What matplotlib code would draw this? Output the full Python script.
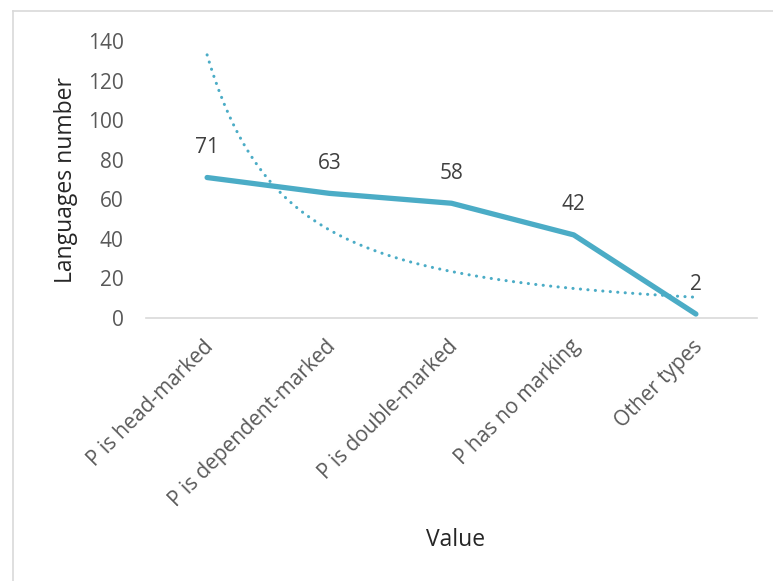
import numpy as np
import matplotlib
matplotlib.use("Agg")
import matplotlib.pyplot as plt
from matplotlib.lines import Line2D
from matplotlib.transforms import ScaledTranslation

categories = ["P is head-marked", "P is dependent-marked", "P is double-marked",
              "P has no marking", "Other types"]
languages = [71, 63, 58, 42, 2]
y_ticks = [0, 20, 40, 60, 80, 100, 120, 140]

LINE = "#4BACC6"
TEXT = "#595959"
AXIS = "#D9D9D9"

plt.rcParams["font.family"] = ["Open Sans", "DejaVu Sans"]

fig = plt.figure(figsize=(7.73, 5.81), dpi=100)
ax = fig.add_axes([146 / 773, 1 - 318 / 581, (757 - 146) / 773, (318 - 41) / 581])

x = np.arange(1, len(categories) + 1)
ax.plot(x, languages, color=LINE, lw=3.8, solid_capstyle="round",
        solid_joinstyle="round", zorder=3)

# power trendline y = a * x^b fitted in log space
b, ln_a = np.polyfit(np.log(x), np.log(languages), 1)
xt = np.linspace(1, len(categories), 200)
ax.plot(xt, np.exp(ln_a) * xt ** b, color=LINE, lw=2.2,
        linestyle=(0, (0.05, 2.4)), dash_capstyle="round", zorder=2)

for xi, v in zip(x, languages):
    ax.annotate(str(v), (xi, v), xytext=(0, 14), textcoords="offset points",
                ha="center", va="bottom", color="#404040", fontsize=15)

ax.set_xlim(0.5, len(categories) + 0.5)
ax.set_ylim(0, 140)
ax.set_yticks(y_ticks)
ax.set_xticks(x)
ax.set_xticklabels(categories, rotation=45, ha="right", va="top",
                   rotation_mode="anchor")

ax.tick_params(axis="both", length=0, colors=TEXT, labelsize=15)
ax.tick_params(axis="y", pad=16)
ax.tick_params(axis="x", pad=13)

# nudge the slanted category labels a little to the left
shift = ScaledTranslation(-4 / 100, 0, fig.dpi_scale_trans)
for lbl in ax.get_xticklabels():
    lbl.set_transform(lbl.get_transform() + shift)

for side in ["top", "right", "left"]:
    ax.spines[side].set_visible(False)
ax.spines["bottom"].set_color(AXIS)
ax.spines["bottom"].set_linewidth(1.2)

fig.text(456 / 773, 1 - 540 / 581, "Value", ha="center", va="center",
         fontsize=16.5, color="#262626")
fig.text(66 / 773, 1 - 180 / 581, "Languages number", ha="center", va="center",
         rotation=90, fontsize=16.5, color="#262626")

# chart frame
fig.add_artist(Line2D([13 / 773, 13 / 773], [0, 1 - 11 / 581], color=AXIS, lw=1.2))
fig.add_artist(Line2D([13 / 773, 1], [1 - 11 / 581, 1 - 11 / 581], color=AXIS, lw=1.2))

fig.savefig("out.png", dpi=100, facecolor="white")
